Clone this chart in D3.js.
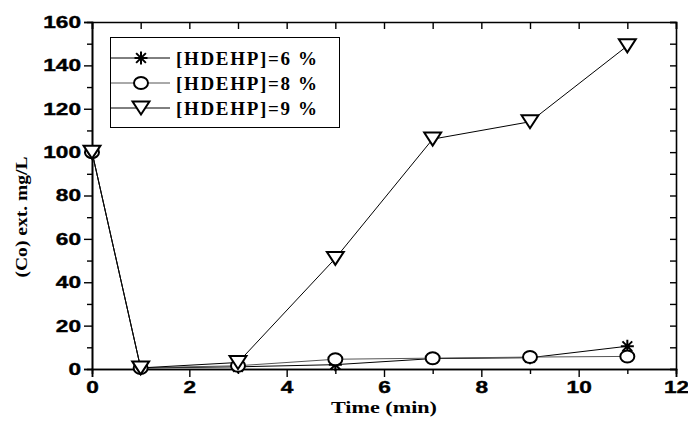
<!DOCTYPE html>
<html>
<head>
<meta charset="utf-8">
<script src="https://cdn.jsdelivr.net/npm/d3@7"></script>
<style>
  body { margin: 0; background: #fff; }
  svg { display: block; }
</style>
</head>
<body>
<script>
// data
const times = [0, 1, 3, 5, 7, 9, 11];
const hdehp6 = [100, 0.5, 1, 2, 4.8, 5.2, 10.5];
const hdehp8 = [100, 0.5, 1.5, 4.5, 5, 5.5, 5.8];
const hdehp9 = [100, 0.5, 3, 51, 106, 114, 149];
const seriesNames = ["[HDEHP]=6 %", "[HDEHP]=8 %", "[HDEHP]=9 %"];
const xTicks = [0, 2, 4, 6, 8, 10, 12];
const yTicks = [0, 20, 40, 60, 80, 100, 120, 140, 160];

const width = 688, height = 425;
const margin = { top: 22, right: 12, bottom: 56, left: 92 };

const svg = d3.select("body").append("svg")
    .attr("width", width)
    .attr("height", height);

const x = d3.scaleLinear().domain([0, 12]).range([margin.left, width - margin.right]);
const y = d3.scaleLinear().domain([0, 160]).range([height - margin.bottom, margin.top]);

const tickFont = "'Liberation Sans', Arial, sans-serif";
const serif = "'Times New Roman', 'Liberation Serif', Tinos, serif";

// bottom axis: majors every 2 outward, minors every 1
const bottom = svg.append("g").attr("transform", `translate(0,${y(0)})`);
bottom.call(d3.axisBottom(x).tickValues(d3.range(1, 12, 2)).tickSize(5).tickFormat(""));
bottom.call(g => g.append("g").call(d3.axisBottom(x).tickValues(xTicks).tickSize(8).tickPadding(4)));

// left axis
const left = svg.append("g").attr("transform", `translate(${x(0)},0)`);
left.call(d3.axisLeft(y).tickValues(d3.range(10, 160, 20)).tickSize(5).tickFormat(""));
left.call(g => g.append("g").call(d3.axisLeft(y).tickValues(yTicks).tickSize(8).tickPadding(3)));

// top and right mirror ticks, inward
svg.append("g").attr("transform", `translate(0,${y(160)})`)
    .call(d3.axisBottom(x).tickValues(d3.range(0, 13, 1)).tickSize(7).tickFormat(""));
svg.append("g").attr("transform", `translate(${x(12)},0)`)
    .call(d3.axisLeft(y).tickValues(d3.range(0, 161, 10)).tickSize(6).tickFormat(""));

svg.selectAll(".domain").attr("stroke", "#000").attr("stroke-width", 1.6);
svg.selectAll(".tick line").attr("stroke", "#000").attr("stroke-width", 1.4);
svg.selectAll(".tick text")
    .attr("font-family", tickFont)
    .attr("font-weight", "bold")
    .attr("font-size", 17)
    .attr("stroke", "#000")
    .attr("stroke-width", 0.4)
    .attr("fill", "#000")
    .attr("textLength", function() { return this.textContent.length * 12.6; })
    .attr("lengthAdjust", "spacingAndGlyphs");

// axis titles
svg.append("text")
    .attr("x", (x(0) + x(12)) / 2)
    .attr("y", 413)
    .attr("text-anchor", "middle")
    .attr("font-family", serif)
    .attr("font-weight", "bold")
    .attr("font-size", 17)
    .attr("textLength", 106)
    .attr("lengthAdjust", "spacingAndGlyphs")
    .text("Time (min)");

svg.append("text")
    .attr("transform", "translate(27,217) rotate(-90)")
    .attr("text-anchor", "middle")
    .attr("font-family", serif)
    .attr("font-weight", "bold")
    .attr("font-size", 16)
    .attr("textLength", 121)
    .attr("lengthAdjust", "spacingAndGlyphs")
    .text("(Co) ext. mg/L");

// markers
const symbols = {
  star: (g, s) => {
    const r = s / 2;
    g.append("path")
      .attr("d", `M${-r},0H${r}M0,${-r}V${r}M${-r * 0.75},${-r * 0.75}L${r * 0.75},${r * 0.75}M${-r * 0.75},${r * 0.75}L${r * 0.75},${-r * 0.75}`)
      .attr("stroke", "#000").attr("stroke-width", 2).attr("fill", "none");
  },
  circle: (g, s) => {
    g.append("ellipse").attr("rx", s / 2 + 0.5).attr("ry", s / 2 - 0.5)
      .attr("fill", "#fff").attr("stroke", "#000").attr("stroke-width", 2);
  },
  triangle: (g, s) => {
    const w = s * 0.65, h = s * 0.5;
    g.append("path")
      .attr("d", `M${-w},${-h}L${w},${-h}L0,${h}Z`)
      .attr("fill", "#fff").attr("stroke", "#000").attr("stroke-width", 2);
  }
};

const series = [
  { name: seriesNames[0], values: hdehp6, sym: "star", color: "#000" },
  { name: seriesNames[1], values: hdehp8, sym: "circle", color: "#555" },
  { name: seriesNames[2], values: hdehp9, sym: "triangle", color: "#000" }
];

const line = d3.line().x((d, i) => x(times[i])).y(d => y(d));

series.forEach(s => {
  svg.append("path")
      .datum(s.values)
      .attr("d", line)
      .attr("fill", "none")
      .attr("stroke", s.color)
      .attr("stroke-width", 1);
});

series.forEach(s => {
  s.values.forEach((v, i) => {
    const g = svg.append("g").attr("transform", `translate(${x(times[i])},${y(v)})`);
    symbols[s.sym](g, 13);
  });
});

// legend
const legend = svg.append("g");
legend.append("rect")
    .attr("x", 110.5).attr("y", 37.5)
    .attr("width", 229).attr("height", 90)
    .attr("fill", "#fff").attr("stroke", "#000").attr("stroke-width", 1);

series.forEach((s, i) => {
  const ly = 58 + i * 25;
  legend.append("line")
      .attr("x1", 111).attr("x2", 170).attr("y1", ly).attr("y2", ly)
      .attr("stroke", s.color).attr("stroke-width", 1);
  const g = legend.append("g").attr("transform", `translate(141,${ly})`);
  symbols[s.sym](g, 13);
  legend.append("text")
      .attr("x", 176).attr("y", ly + 7)
      .attr("font-family", serif)
      .attr("font-weight", "bold")
      .attr("font-size", 19)
      .attr("textLength", 141)
      .attr("lengthAdjust", "spacing")
      .text(s.name);
});
</script>
</body>
</html>
